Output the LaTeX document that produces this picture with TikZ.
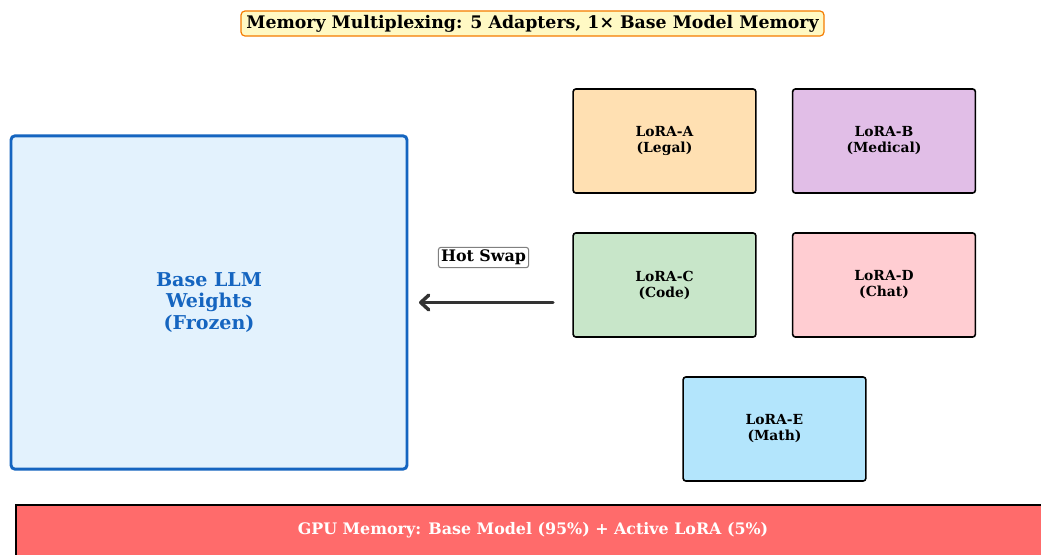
\documentclass[tikz,border=0pt]{standalone}
\usepackage{fontspec}
\setmainfont{DejaVu Serif}
\usetikzlibrary{arrows.meta}
\definecolor{titlefill}{HTML}{FFF9C4}
\definecolor{titleborder}{HTML}{F57C00}
\definecolor{basefill}{HTML}{E3F2FD}
\definecolor{baseblue}{HTML}{1565C0}
\definecolor{cA}{HTML}{FFE0B2}
\definecolor{cB}{HTML}{E1BEE7}
\definecolor{cC}{HTML}{C8E6C9}
\definecolor{cD}{HTML}{FFCDD2}
\definecolor{cE}{HTML}{B3E5FC}
\definecolor{gpured}{HTML}{FF6B6B}
\definecolor{arrowgray}{HTML}{333333}
\tikzset{
  lorabox/.style={draw=black, line width=1.2pt, rounded corners=2pt, minimum width=137pt, minimum height=78pt, inner sep=0pt, align=center, font=\fontsize{10.4}{12}\selectfont\bfseries},
}
\begin{document}
\begin{tikzpicture}[x=0.75pt,y=-0.75pt]
\clip (0,0) rectangle (1041,554);
\fill[white] (0,0) rectangle (1041,554);
% title
\node[draw=titleborder, fill=titlefill, line width=0.9pt, rounded corners=3pt, inner xsep=4pt, inner ysep=3pt, font=\fontsize{13}{14}\selectfont\bfseries] (title) at (532.5,23.5) {Memory Multiplexing: 5 Adapters, 1× Base Model Memory};
% base
\node[draw=baseblue, fill=basefill, line width=2.2pt, rounded corners=3pt, minimum width=297pt, minimum height=250pt, align=center, text=baseblue, font=\fontsize{14.3}{15.8}\selectfont\bfseries] (base) at (209,302.5) {Base LLM\\Weights\\(Frozen)};
% loras
\node[lorabox, fill=cA] (la) at (664.5,141) {LoRA-A\\(Legal)};
\node[lorabox, fill=cB] (lb) at (884,141) {LoRA-B\\(Medical)};
\node[lorabox, fill=cC] (lc) at (664.5,285) {LoRA-C\\(Code)};
\node[lorabox, fill=cD] (ld) at (884,285) {LoRA-D\\(Chat)};
\node[lorabox, fill=cE] (le) at (774.5,429) {LoRA-E\\(Math)};
% arrow
\coordinate (arrstart) at (553,302.5);
\coordinate (arrend) at (419,302.5);
\draw[arrowgray, line width=2.6pt, line cap=round, -{Straight Barb[length=6pt,width=11pt,line width=2.6pt, round]}] (arrstart) -- (arrend);
\node[draw=gray, fill=white, line width=0.8pt, rounded corners=2pt, inner xsep=2pt, inner ysep=2pt, font=\fontsize{11.9}{13}\selectfont\bfseries] (hot) at (483.5,257.5) {Hot Swap};
% gpu bar
\node[draw=black, fill=gpured, line width=1.5pt, minimum width=780pt, minimum height=60pt, anchor=north west] (gpu) at (15,504) {};
\node[text=white, font=\fontsize{11.9}{13}\selectfont\bfseries] (gputext) at (533,530) {GPU Memory: Base Model (95\%) + Active LoRA (5\%)};
\end{tikzpicture}
\end{document}
